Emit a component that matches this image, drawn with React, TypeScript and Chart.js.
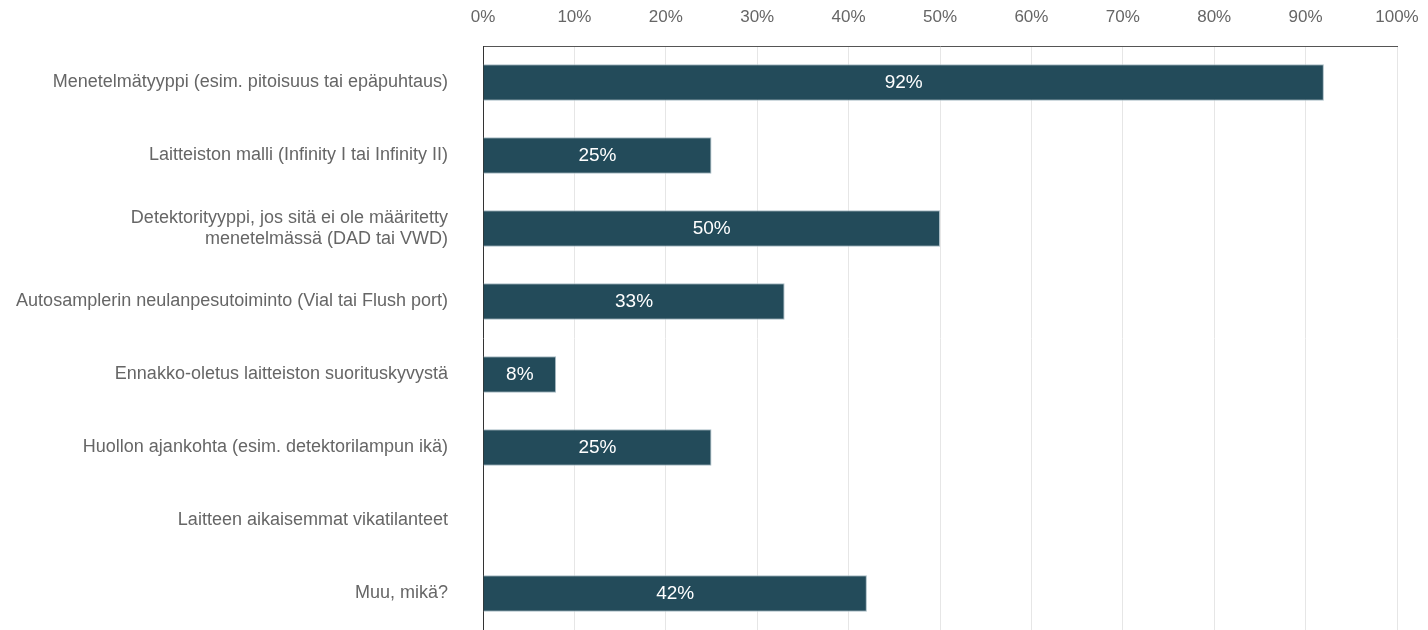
import React, { useEffect, useRef } from "react";
import { Chart, registerables } from "chart.js";

Chart.register(...registerables);

const categories: (string | string[])[] = [
  "Menetelmätyyppi (esim. pitoisuus tai epäpuhtaus)",
  "Laitteiston malli (Infinity I tai Infinity II)",
  ["Detektorityyppi, jos sitä ei ole määritetty", "menetelmässä (DAD tai VWD)"],
  "Autosamplerin neulanpesutoiminto (Vial tai Flush port)",
  "Ennakko-oletus laitteiston suorituskyvystä",
  "Huollon ajankohta (esim. detektorilampun ikä)",
  "Laitteen aikaisemmat vikatilanteet",
  "Muu, mikä?",
];
const values: number[] = [92, 25, 50, 33, 8, 25, 0, 42];
const xTicks: number[] = [0, 10, 20, 30, 40, 50, 60, 70, 80, 90, 100];

const FONT = "'Liberation Sans', Arial, sans-serif";

const labelPlugin = {
  id: "barLabels",
  afterDatasetsDraw(chart: any) {
    const ctx = chart.ctx;
    const meta = chart.getDatasetMeta(0);
    ctx.save();
    ctx.fillStyle = "#ffffff";
    ctx.font = `19px ${FONT}`;
    ctx.textAlign = "center";
    ctx.textBaseline = "middle";
    meta.data.forEach((bar: any, i: number) => {
      const v = values[i];
      if (!v) return;
      const x = (bar.x + bar.base) / 2;
      ctx.fillText(`${v}%`, x, bar.y);
    });
    ctx.restore();
  },
};

export default function App() {
  const ref = useRef<HTMLCanvasElement>(null);
  useEffect(() => {
    document.body.style.margin = "0";
    const chart = new Chart(ref.current!, {
      type: "bar",
      data: {
        labels: categories,
        datasets: [
          {
            data: values,
            backgroundColor: "#234B5A",
            borderColor: "#a9bcc4",
            borderWidth: 1,
            categoryPercentage: 1,
            barPercentage: 0.5,
          },
        ],
      },
      options: {
        indexAxis: "y",
        animation: false,
        responsive: false,
        layout: { padding: { top: 8, right: 31, left: 0, bottom: 0 } },
        plugins: { legend: { display: false }, tooltip: { enabled: false } },
        scales: {
          x: {
            position: "top",
            min: 0,
            max: 100,
            afterBuildTicks: (scale: any) => {
              scale.ticks = xTicks.map((v) => ({ value: v }));
            },
            afterFit: (scale: any) => {
              scale.paddingLeft = 0;
              scale.paddingRight = 0;
              scale.height = 38;
            },
            ticks: {
              callback: (v: any) => `${v}%`,
              color: "#666666",
              font: { family: FONT, size: 17 },
              padding: 18,
              maxRotation: 0,
            },
            grid: { color: "#e6e6e6", drawTicks: false, lineWidth: 1 },
            border: { display: true, color: "#555555", width: 1 },
          },
          y: {
            afterFit: (scale: any) => {
              scale.width = 483;
              scale.paddingTop = 0;
              scale.paddingBottom = 0;
            },
            ticks: {
              color: "#666666",
              font: { family: FONT, size: 18 },
              padding: 35,
              autoSkip: false,
            },
            grid: { display: false, drawTicks: false },
            border: { display: true, color: "#333333", width: 1 },
          },
        },
      },
      plugins: [labelPlugin],
    });
    return () => chart.destroy();
  }, []);
  return (
    <div style={{ width: 1428, height: 630 }}>
      <canvas ref={ref} width={1428} height={630} style={{ display: "block" }} />
    </div>
  );
}
